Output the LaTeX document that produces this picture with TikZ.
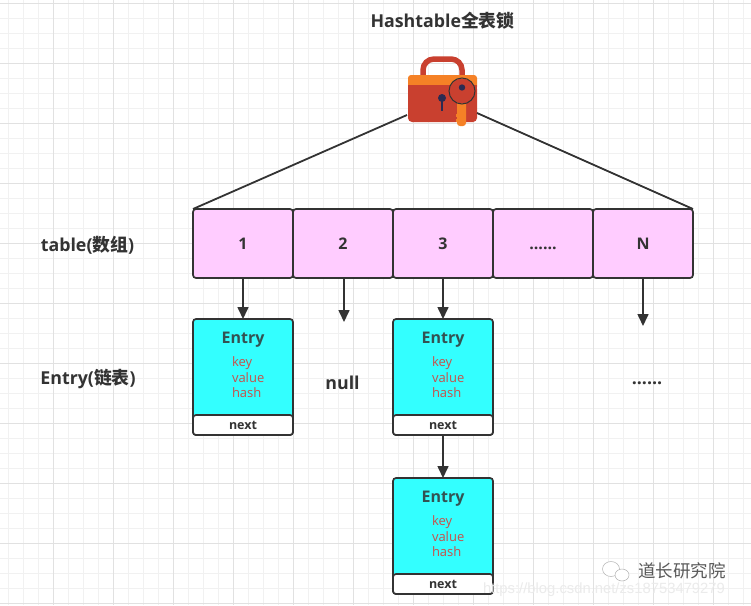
\documentclass[tikz,border=0pt]{standalone}
\usepackage{fontspec}
\setmainfont{Open Sans}
\newfontfamily\cjk{Noto Sans CJK SC}
\newfontfamily\cjkb{Noto Sans CJK SC Bold}
\newfontfamily\markfont{Liberation Sans}
\usetikzlibrary{arrows.meta}
\definecolor{ink}{HTML}{333333}
\definecolor{cellpink}{HTML}{FFCCFF}
\definecolor{entrycyan}{HTML}{33FFFF}
\definecolor{keyred}{HTML}{C8504A}
\definecolor{lockred}{HTML}{C9402F}
\definecolor{lockorange}{HTML}{F58126}
\definecolor{gridminor}{HTML}{F1F1F1}
\definecolor{gridmajor}{HTML}{E1E1E1}
\tikzset{
  x=1pt,y=-1pt,
  every node/.style={inner sep=0pt,outer sep=0pt,text=ink},
  heading/.style={font=\bfseries\fontsize{17.8}{20}\selectfont},
  cell/.style={draw=ink,line width=1.7pt,rounded corners=3pt,fill=cellpink,minimum width=100pt,minimum height=69pt,font=\bfseries\fontsize{16}{18}\selectfont},
  entrybody/.style={draw=ink,line width=1.7pt,rounded corners=3pt,fill=entrycyan,minimum width=100pt,minimum height=116pt},
  nextbar/.style={draw=ink,line width=1.7pt,rounded corners=3pt,fill=white,minimum width=100pt,minimum height=20pt,font=\bfseries\fontsize{12.5}{14}\selectfont},
  entrytitle/.style={font=\bfseries\fontsize{16}{18}\selectfont,text=ink!85!entrycyan},
  fieldlist/.style={font=\fontsize{13}{15.8}\selectfont,text=keyred,align=left},
  link/.style={draw=ink,line width=1.6pt,-{Triangle[length=12pt,width=11pt]}},
  tie/.style={draw=ink,line width=1.8pt},
}
\begin{document}
\begin{tikzpicture}
\useasboundingbox (0,0) rectangle (751,605);
\fill[white] (0,0) rectangle (751,605);
% paper grid
\foreach \g in {8,23,...,751}{\draw[gridminor,line width=.7pt] (\g,0) -- (\g,605);}
\foreach \g in {3,18,...,605}{\draw[gridminor,line width=.7pt] (0,\g) -- (751,\g);}
\foreach \g in {53,113,...,751}{\draw[gridmajor,line width=.8pt] (\g,0) -- (\g,605);}
\foreach \g in {3,63,...,605}{\draw[gridmajor,line width=.8pt] (0,\g) -- (751,\g);}

% titles and row captions
\node[heading] (title) at (442.5,21) {Hashtable{\cjkb 全表锁}};
\node[heading] (tablecap) at (87.5,245.5) {table({\cjkb 数组})};
\node[heading] (entrycap) at (88,378.5) {Entry({\cjkb 链表})};

% padlock with key
\coordinate (lockL) at (407,115);
\coordinate (lockR) at (477,113);
\draw[lockred,line width=5.5pt] (423,82) -- (423,70) arc[start angle=180,end angle=270,radius=11] -- (451,59) arc[start angle=-90,end angle=0,radius=11] -- (462,82);
\fill[lockorange,rounded corners=3pt] (408,75) rectangle (477,90);
\fill[lockred,rounded corners=4pt] (408,85) rectangle (477,122);
\fill[lockred] (408,85) rectangle (477,92);
\fill[lockorange] (423,75) -- (423,81) -- (426,81) -- (426,75) -- cycle;
\fill[ink!85!blue] (442,98) circle[radius=4];
\fill[ink!85!blue] (440.6,98) rectangle (443.4,111);
\fill[lockorange,rounded corners=3pt] (457,100) rectangle (466,126);
\fill[lockorange] (456,114) rectangle (459,117);
\fill[lockorange] (456,119) rectangle (459,122);
\fill[lockred] (462,91) circle[radius=12.5];
\draw[ink,line width=1pt] (462,91) circle[radius=13];
\fill[ink!85!blue] (462,87.5) circle[radius=3.2];

% table row
\node[cell] (c1) at (243,243.5) {\raisebox{-1.5pt}{1}};
\node[cell] (c2) at (343,243.5) {\raisebox{-1.5pt}{2}};
\node[cell] (c3) at (443,243.5) {\raisebox{-1.5pt}{3}};
\node[cell] (c4) at (543,243.5) {\raisebox{-1.5pt}{\vphantom{1}......}};
\node[cell] (c5) at (643,243.5) {\raisebox{-1.5pt}{N}};

\draw[tie] (lockL) -- (c1.north west);
\draw[tie] (lockR) -- (c5.north east);

% first chain
\node[entrybody] (e1) at (243,377) {};
\node[nextbar,anchor=south] (n1) at (e1.south) {next};
\node[entrytitle] (t1) at (243,340) {Entry};
\node[fieldlist,anchor=north west] (f1) at (232,356.5) {key\\value\\hash};

% third chain, upper entry
\node[entrybody] (e2) at (443,377) {};
\node[nextbar,anchor=south] (n2) at (e2.south) {next};
\node[entrytitle] (t2) at (443,340) {Entry};
\node[fieldlist,anchor=north west] (f2) at (432,356.5) {key\\value\\hash};

% third chain, lower entry
\node[entrybody] (e3) at (443,536) {};
\node[nextbar,anchor=south] (n3) at (e3.south) {next};
\node[entrytitle] (t3) at (443,499) {Entry};
\node[fieldlist,anchor=north west] (f3) at (432,515.5) {key\\value\\hash};

% empty slots
\node[heading] (nul) at (342.5,383) {null};
\node[heading] (dots) at (647,378) {\vphantom{1}......};
\coordinate (end2) at (344,322);
\coordinate (end5) at (643,326);

% connectors
\draw[link] (c1.south) -- (e1.north);
\draw[link] (c2.south -| end2) -- (end2);
\draw[link] (c3.south) -- (e2.north);
\draw[link] (c5.south) -- (end5);
\draw[link] (n2.south) -- (e3.north);

% publisher mark
\node[font=\markfont\fontsize{14.8}{16}\selectfont,text=black!8,anchor=west] (url) at (483,590) {https://blog.csdn.net/zs18753479279};
\node[font=\cjk\fontsize{17.5}{18}\selectfont,text=white!35!black,anchor=west] (brand) at (638,570.5) {道长研究院};
\draw[black!30,fill=white,line width=.5pt] (611,569) ellipse[x radius=8.5,y radius=7.5];
\draw[black!30,fill=white,line width=.5pt] (622,575) ellipse[x radius=7,y radius=6];
\end{tikzpicture}
\end{document}
